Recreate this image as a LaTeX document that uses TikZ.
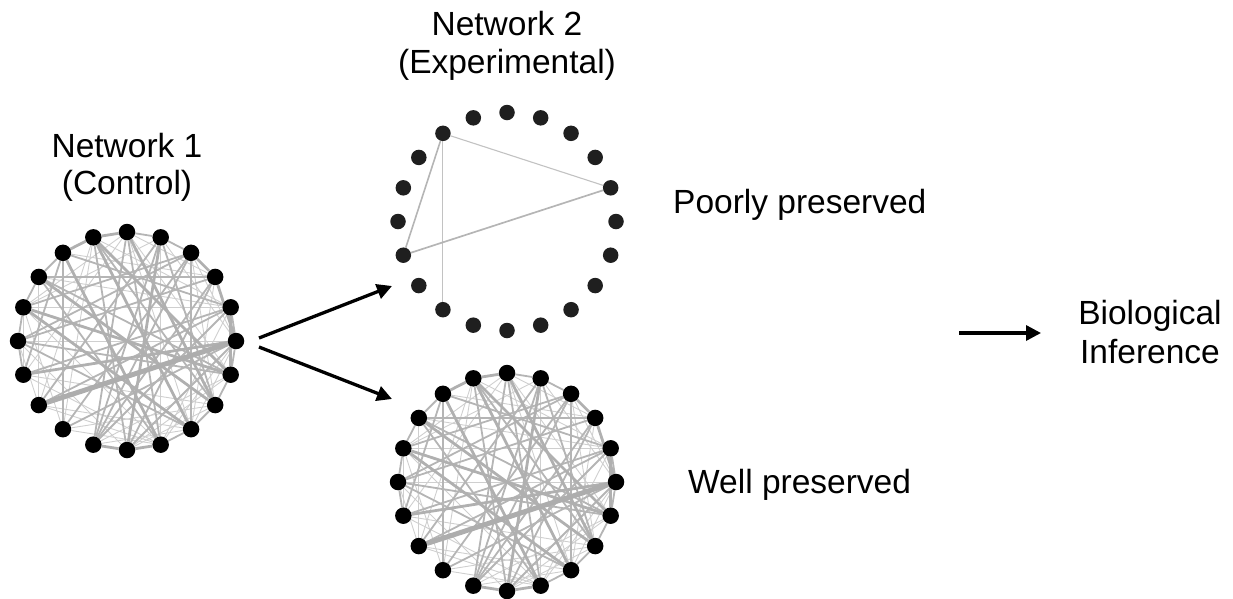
\documentclass[tikz,border=0pt]{standalone}
\usepackage{fontspec}
\setmainfont{Liberation Sans}
\usetikzlibrary{arrows.meta,backgrounds}
\tikzset{
  vert/.style={circle,fill=black,inner sep=0pt,minimum size=16.5pt},
  vertb/.style={circle,fill=black!88,inner sep=0pt,minimum size=15.5pt},
  lbl/.style={font=\fontsize{33.5}{38}\selectfont,inner sep=0pt,anchor=base},
  thinE/.style={draw=black!19,line width=0.9pt},
  medE/.style={draw=black!29,line width=1.8pt},
  thkE/.style={draw=black!31,line width=2.8pt},
  hugeE/.style={draw=black!32,line width=5pt},
  sparseE/.style={draw=black!24,line width=1.1pt},
  flow/.style={line width=3.3pt,-{Triangle[length=15pt,width=15pt]}}
}
\begin{document}
\begin{tikzpicture}[x=1pt,y=-1pt]
\useasboundingbox (0,0) rectangle (1233,598);
% vertices of the two dense networks
\foreach \p/\cx/\cy in {A/127/341, C/507/482} {
  \foreach \k in {0,...,19} {
    \node[vert] (\p\k) at ({\cx+109*cos(90-18*\k)},{\cy-109*sin(90-18*\k)}) {};
  }
}
% vertices of the sparse network
\foreach \k in {0,...,19} {
  \node[vertb] (B\k) at ({507+109*cos(90-18*\k)},{221.5-109*sin(90-18*\k)}) {};
}
\begin{pgfonlayer}{background}
\foreach \p in {A,C} {
  \foreach \a/\b in {15/13,15/10,12/9,13/9,14/9,16/9,0/6,1/5,2/5,2/7,3/8,4/9,5/9,5/8,19/12,19/13,0/14,0/16,17/4,15/5,16/4,17/3,14/7,12/7,13/8,11/6,10/6,10/7,11/8,19/4,18/3,0/3,1/16,12/16,13/17,14/16,9/1,8/0}
    \draw[thinE] (\p\a) -- (\p\b);
  \foreach \a/\b in {18/12,18/14,18/4,14/4,11/1,11/2,11/4,10/3,10/5,10/19,0/11,1/13,2/15,2/16,3/15,3/17,12/5,12/2,9/17,8/15,7/19,6/17,6/15,17/18,16/17,15/16,14/15,5/6,4/5,1/2,0/1,8/9,7/8,6/7,1/7,2/8,0/9,11/3,13/4}
    \draw[medE] (\p\a) -- (\p\b);
  \foreach \a/\b in {1/10,16/8,19/8,17/7,18/9,19/6,0/7,14/5,16/6,19/0,18/19,3/5,4/6,2/3,10/11,9/10}
    \draw[thkE] (\p\a) -- (\p\b);
  \draw[hugeE] (\p13) -- (\p5);
}
\draw[sparseE] (B18) -- (B4);
\draw[sparseE] (B18) -- (B12);
\draw[medE,line width=1.6pt] (B18) -- (B14);
\draw[medE,line width=1.7pt] (B14) -- (B4);
\end{pgfonlayer}
% labels
\node[lbl] (t1a) at (127,157) {Network 1};
\node[lbl] (t1b) at (127,194) {(Control)};
\node[lbl] (t2a) at (507,35) {Network 2};
\node[lbl] (t2b) at (507,73) {(Experimental)};
\node[lbl,anchor=base west] (poor) at (673,213) {Poorly preserved};
\node[lbl,anchor=base west] (well) at (688,493) {Well preserved};
\node[lbl] (bio1) at (1150,324) {Biological};
\node[lbl] (bio2) at (1150,363) {Inference};
% arrows
\coordinate (s1) at (259,338);
\coordinate (e1) at (392,286);
\coordinate (s2) at (259,347);
\coordinate (e2) at (392,399);
\coordinate (s3) at (959,333);
\coordinate (e3) at (1041,333);
\draw[flow] (s1) -- (e1);
\draw[flow] (s2) -- (e2);
\draw[flow] (s3) -- (e3);
\end{tikzpicture}
\end{document}
